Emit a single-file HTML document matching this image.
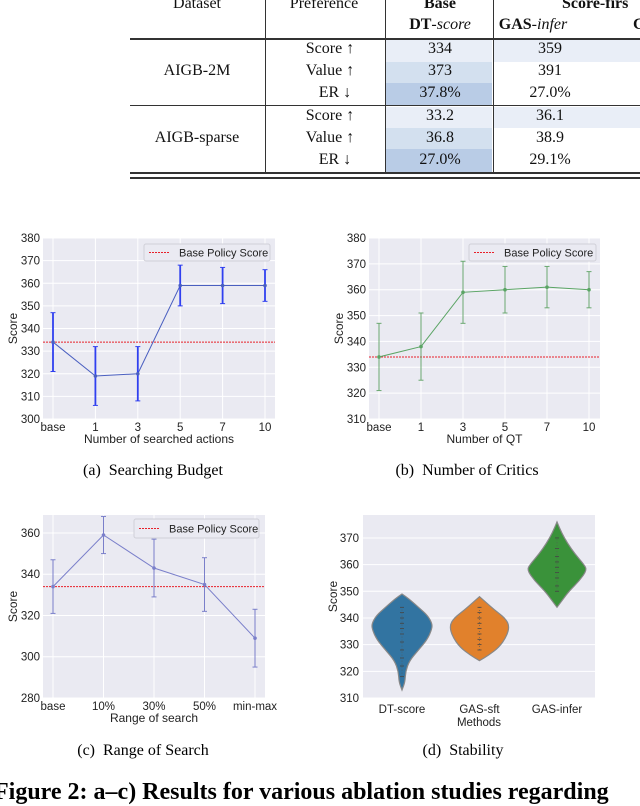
<!DOCTYPE html>
<html><head><meta charset="utf-8">
<style>
body{margin:0;background:#fff;width:640px;height:794px;overflow:hidden;position:relative;font-family:"Liberation Serif",serif;}
.t{position:absolute;font-size:16px;color:#111;white-space:nowrap;transform:translate(-50%,-50%);}
.hr{position:absolute;left:130px;right:0;background:#333;}
.vr{position:absolute;width:1px;background:#333;top:0;height:174px;}
.cell{position:absolute;}
.cap{position:absolute;font-size:16px;transform:translateX(-50%);white-space:nowrap;}
svg text{font-family:"Liberation Sans",sans-serif;}
</style></head><body>
<div>
<div class="cell" style="left:386px;top:40px;width:106px;height:22px;background:#e9eef7"></div>
<div class="cell" style="left:494px;top:40px;width:146px;height:22px;background:#e9eef7"></div>
<div class="cell" style="left:386px;top:62px;width:106px;height:21px;background:#d3e0ef"></div>
<div class="cell" style="left:386px;top:83px;width:106px;height:22px;background:#b9cce6"></div>
<div class="cell" style="left:386px;top:107px;width:106px;height:21px;background:#e9eef7"></div>
<div class="cell" style="left:494px;top:107px;width:146px;height:21px;background:#e9eef7"></div>
<div class="cell" style="left:386px;top:128px;width:106px;height:21px;background:#d3e0ef"></div>
<div class="cell" style="left:386px;top:149px;width:106px;height:23px;background:#b9cce6"></div>
<div class="hr" style="top:38px;height:2px"></div>
<div class="hr" style="top:105px;height:1px"></div>
<div class="hr" style="top:172px;height:2px"></div>
<div class="hr" style="top:177px;height:2px"></div>
<div class="vr" style="left:265px"></div><div class="vr" style="left:385px"></div><div class="vr" style="left:493px"></div>
<div class="t" style="left:197px;top:4px">Dataset</div>
<div class="t" style="left:324px;top:4px">Preference</div>
<div class="t" style="left:440px;top:4px;font-weight:bold">Base</div>
<div class="t" style="left:440px;top:25px"><b>DT</b>-<i>score</i></div>
<div class="t" style="left:533px;top:25px"><b>GAS</b>-<i>infer</i></div>
<div class="t" style="left:562px;top:4px;transform:translate(0,-50%);font-weight:bold">Score-firs</div>
<div class="t" style="left:633px;top:25px;transform:translate(0,-50%);font-weight:bold">G</div>
<div class="t" style="left:197px;top:71px">AIGB-2M</div>
<div class="t" style="left:197px;top:138px">AIGB-sparse</div>
<div class="t" style="left:330px;top:49px">Score ↑</div><div class="t" style="left:330px;top:71px">Value ↑</div><div class="t" style="left:335px;top:93px">ER ↓</div>
<div class="t" style="left:330px;top:116px">Score ↑</div><div class="t" style="left:330px;top:138px">Value ↑</div><div class="t" style="left:335px;top:160px">ER ↓</div>
<div class="t" style="left:440px;top:49px">334</div><div class="t" style="left:440px;top:71px">373</div><div class="t" style="left:440px;top:93px">37.8%</div>
<div class="t" style="left:440px;top:116px">33.2</div><div class="t" style="left:440px;top:138px">36.8</div><div class="t" style="left:440px;top:160px">27.0%</div>
<div class="t" style="left:550px;top:49px">359</div><div class="t" style="left:550px;top:71px">391</div><div class="t" style="left:550px;top:93px">27.0%</div>
<div class="t" style="left:550px;top:116px">36.1</div><div class="t" style="left:550px;top:138px">38.9</div><div class="t" style="left:550px;top:160px">29.1%</div>
</div>

<svg id="svg" width="640" height="794" style="position:absolute;left:0;top:0"></svg>

<div class="cap" style="left:153px;top:462px">(a)&nbsp; Searching Budget</div>
<div class="cap" style="left:467px;top:462px">(b)&nbsp; Number of Critics</div>
<div class="cap" style="left:143px;top:742px">(c)&nbsp; Range of Search</div>
<div class="cap" style="left:463px;top:742px">(d)&nbsp; Stability</div>
<div style="position:absolute;left:-6px;top:779px;font-size:24px;font-weight:bold;white-space:nowrap">Figure 2: a–c) Results for various ablation studies regarding</div>

<script>
const catsA=["base","1","3","5","7","10"];
const meanA=[334,319,320,359,359,359];
const hiA=[347,332,332,368,367,366];
const loA=[321,306,308,350,351,352];
const ticksA=[300,310,320,330,340,350,360,370,380];
const catsB=["base","1","3","5","7","10"];
const meanB=[334,338,359,360,361,360];
const hiB=[347,351,371,369,369,367];
const loB=[321,325,347,351,353,353];
const ticksB=[310,320,330,340,350,360,370,380];
const catsC=["base","10%","30%","50%","min-max"];
const meanC=[334,359,343,335,309];
const hiC=[347,368,357,348,323];
const loC=[321,350,329,322,295];
const ticksC=[280,300,320,340,360];
const baseScore=334;
const catsD=["DT-score","GAS-sft","GAS-infer"];
const violinY=[[313,316,320,324,328,332,336,338,341,344,347,349],[324,326,329,333,337,340,343,346,348],[344,347,350,354,358,360,364,368,372,376]];
const violinW=[[0,0.1,0.12,0.25,0.55,0.85,1,1,0.85,0.55,0.25,0],[0,0.3,0.65,0.9,1,0.85,0.5,0.2,0],[0,0.2,0.4,0.75,1,0.9,0.6,0.35,0.15,0]];
const violinPts=[[318,322,325,328,331,334,336,338,340,342,344],[328,330,332,334,336,338,340,342,344],[350,352,355,357,359,361,363,366,370]];
const ticksD=[310,320,330,340,350,360,370];
const colorsD=["#3274a1","#e1812c","#3a923a"];

const svg=document.getElementById('svg');
const NS="http://www.w3.org/2000/svg";
function mk(tag,at,parent){const e=document.createElementNS(NS,tag);for(const k in at)e.setAttribute(k,at[k]);(parent||svg).appendChild(e);return e;}
function txt(s,at,parent){const e=mk('text',at,parent);e.textContent=s;return e;}

function lineChart(o){
  const g=mk('g',{});
  
  
  const {x0,x1,y0,y1,ymin,ymax,c0,c1}=o;
  const ys=v=>y1-(v-ymin)/(ymax-ymin)*(y1-y0);
  const n=o.cats.length;
  const xs=i=>c0+i*(c1-c0)/(n-1);
  mk('rect',{x:x0,y:y0,width:x1-x0,height:y1-y0,fill:'#eaeaf2'},g);
  o.ticks.forEach(t=>{const y=ys(t);mk('line',{x1:x0,x2:x1,y1:y,y2:y,stroke:'#fff','stroke-width':1},g);
    const l=txt(t,{x:x0-3,y:y+4,'font-size':11.5,'text-anchor':'end',fill:'#222'},g);
    });
  o.cats.forEach((c,i)=>{const x=xs(i);mk('line',{x1:x,x2:x,y1:y0,y2:y1,stroke:'#fff','stroke-width':1},g);
    const l=txt(c,{x:x,y:y1+12,'font-size':11.5,'text-anchor':'middle',fill:'#222'},g);
    });
  const by=ys(baseScore);
  const bl=mk('line',{x1:x0,x2:x1,y1:by,y2:by,stroke:'#e8202a','stroke-width':1,'stroke-dasharray':'2,1'},g);
  
  const pts=o.mean.map((v,i)=>xs(i)+','+ys(v)).join(' ');
  const pl=mk('polyline',{points:pts,fill:'none',stroke:o.line,'stroke-width':1},g);
  
  o.mean.forEach((v,i)=>{const x=xs(i);
    const eb=mk('g',{},g);
    
    mk('line',{x1:x,x2:x,y1:ys(o.hi[i]),y2:ys(o.lo[i]),stroke:o.err,'stroke-width':o.ew},eb);
    mk('line',{x1:x-2.5,x2:x+2.5,y1:ys(o.hi[i]),y2:ys(o.hi[i]),stroke:o.err,'stroke-width':1},eb);
    mk('line',{x1:x-2.5,x2:x+2.5,y1:ys(o.lo[i]),y2:ys(o.lo[i]),stroke:o.err,'stroke-width':1},eb);
    const p=mk('circle',{cx:x,cy:ys(v),r:1.8,fill:o.line},g);
    });
  const L=o.leg;
  const lg=mk('g',{},g);
  
  mk('rect',{x:L[0],y:L[1],width:L[2],height:L[3],fill:'#eaeaf2',stroke:'#d0d0d8',rx:2},lg);
  mk('line',{x1:L[0]+5,x2:L[0]+26,y1:L[1]+L[3]/2,y2:L[1]+L[3]/2,stroke:'#e8202a','stroke-dasharray':'2,1'},lg);
  txt('Base Policy Score',{x:L[0]+35,y:L[1]+L[3]/2+4,'font-size':11,fill:'#222'},lg);
  const xl=txt(o.xlabel,{x:(x0+x1)/2,y:y1+24,'font-size':12,'text-anchor':'middle',fill:'#222'},g);
  
  const yl=txt('Score',{x:0,y:0,'font-size':12,'text-anchor':'middle',fill:'#222',transform:`translate(${o.ylx},${(y0+y1)/2}) rotate(-90)`},g);
  
}
lineChart({name:'chart-searching-budget',x0:43,x1:275,y0:238,y1:419,ymin:300,ymax:380,c0:53,c1:265,cats:catsA,mean:meanA,hi:hiA,lo:loA,ticks:ticksA,line:'#4a5fc0',err:'#3040f0',ew:1.8,leg:[144,244,126,17],xlabel:'Number of searched actions',ylx:17});
lineChart({name:'chart-number-of-critics',x0:369,x1:600,y0:238,y1:419,ymin:310,ymax:380,c0:379,c1:589,cats:catsB,mean:meanB,hi:hiB,lo:loB,ticks:ticksB,line:'#5aa464',err:'#6aa870',ew:1,leg:[469,244,127,17],xlabel:'Number of QT',ylx:343});
lineChart({name:'chart-range-of-search',x0:43,x1:265,y0:515,y1:698,ymin:280,ymax:368.7,c0:53,c1:255,cats:catsC,mean:meanC,hi:hiC,lo:loC,ticks:ticksC,line:'#7a7fca',err:'#7a7fca',ew:1,leg:[134,519,125,19],xlabel:'Range of search',ylx:17});

(function(){
  const g=mk('g',{});
  
  
  const x0=363,x1=595,y0=515,y1=698,ymin=310,ymax=378.6;
  const ys=v=>y1-(v-ymin)/(ymax-ymin)*(y1-y0);
  const xs=i=>402+i*77.5;
  mk('rect',{x:x0,y:y0,width:x1-x0,height:y1-y0,fill:'#eaeaf2'},g);
  ticksD.forEach(t=>{const y=ys(t);mk('line',{x1:x0,x2:x1,y1:y,y2:y,stroke:'#fff'},g);
    const l=txt(t,{x:x0-4,y:y+4,'font-size':11.5,'text-anchor':'end',fill:'#222'},g);
    });
  catsD.forEach((c,i)=>{
    const cx=xs(i),Y=violinY[i],W=violinW[i];
    let r=[],l=[];
    Y.forEach((v,j)=>{r.push([cx+W[j]*30,ys(v)]);l.push([cx-W[j]*30,ys(v)]);});
    l.reverse();
    const pts=r.concat(l);
    let d='M'+pts[0].join(',');
    for(let k=1;k<pts.length;k++){const p=pts[k-1],q=pts[k];const mx=(p[0]+q[0])/2,my=(p[1]+q[1])/2;d+=' Q'+p.join(',')+' '+mx+','+my;}
    d+=' L'+pts[pts.length-1].join(',')+'Z';
    const v=mk('path',{d:d,fill:colorsD[i],stroke:'#888','stroke-width':1.2},g);
    
    violinPts[i].forEach(p=>{mk('line',{x1:cx-2,x2:cx+2,y1:ys(p),y2:ys(p),stroke:'#444','stroke-width':0.8},g);});
    mk('line',{x1:cx,x2:cx,y1:ys(violinPts[i][0]),y2:ys(violinPts[i][violinPts[i].length-1]),stroke:'#555','stroke-width':0.6,'stroke-dasharray':'1,2'},g);
    const t=txt(c,{x:cx,y:y1+15,'font-size':11.5,'text-anchor':'middle',fill:'#222'},g);
    
  });
  const xl=txt('Methods',{x:479,y:y1+28,'font-size':11.5,'text-anchor':'middle',fill:'#222'},g);
  
  const yl=txt('Score',{x:0,y:0,'font-size':12,'text-anchor':'middle',fill:'#222',transform:`translate(337,${(y0+y1)/2-10}) rotate(-90)`},g);
  
})();
</script>
</body></html>
